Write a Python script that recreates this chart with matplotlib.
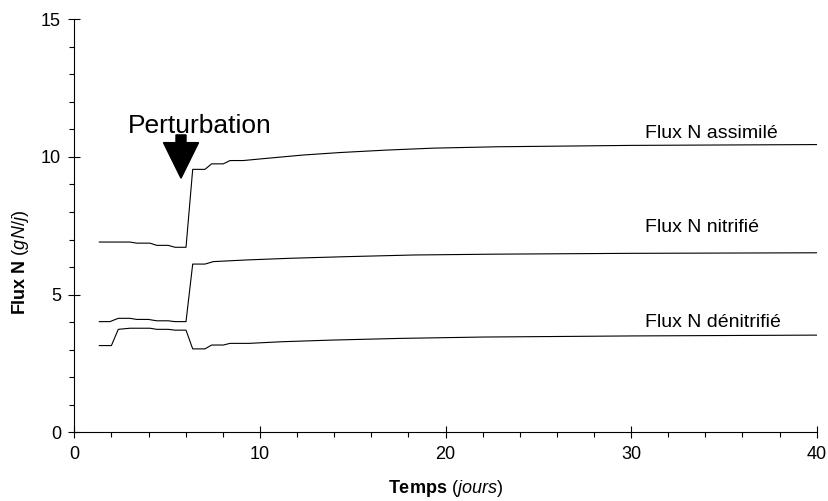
import matplotlib
matplotlib.use("Agg")
import matplotlib.pyplot as plt
from matplotlib.ticker import MultipleLocator

plt.rcParams["font.family"] = ["Liberation Sans", "DejaVu Sans"]
plt.rcParams["mathtext.fontset"] = "custom"
plt.rcParams["mathtext.rm"] = "Liberation Sans"
plt.rcParams["mathtext.bf"] = "Liberation Sans:bold"
plt.rcParams["mathtext.it"] = "Liberation Sans:italic"

# Flux N assimilé (gN/j)
t_assim = [1.35, 3.0, 3.36, 4.08, 4.44, 5.06, 5.43, 6.02, 6.38, 7.04, 7.40, 8.03,
           8.39, 9.10, 10.37, 12.32, 14.30, 16.83, 19.33, 22.76, 30.0, 40.0]
flux_assim = [6.91, 6.91, 6.87, 6.87, 6.79, 6.79, 6.72, 6.72, 9.55, 9.55, 9.75, 9.75,
              9.87, 9.87, 9.95, 10.07, 10.16, 10.25, 10.32, 10.37, 10.42, 10.45]

# Flux N nitrifié
t_nitri = [1.35, 1.92, 2.37, 3.0, 3.36, 3.99, 4.44, 5.06, 5.43, 6.02, 6.38, 7.04,
           7.50, 9.30, 11.6, 14.7, 18.3, 22.7, 30.0, 40.0]
flux_nitri = [4.02, 4.02, 4.14, 4.14, 4.10, 4.10, 4.05, 4.05, 4.02, 4.02, 6.11, 6.11,
              6.20, 6.26, 6.32, 6.38, 6.44, 6.47, 6.50, 6.52]

# Flux N dénitrifié
t_denit = [1.35, 2.0, 2.37, 3.0, 4.08, 4.44, 5.06, 5.43, 6.02, 6.38, 7.04, 7.40,
           8.03, 8.39, 9.40, 11.2, 13.9, 17.5, 22.0, 30.0, 40.0]
flux_denit = [3.15, 3.15, 3.74, 3.78, 3.78, 3.74, 3.74, 3.71, 3.71, 3.03, 3.03, 3.17,
              3.17, 3.23, 3.23, 3.29, 3.35, 3.41, 3.46, 3.50, 3.53]

fig = plt.figure(figsize=(8.29, 5.01), dpi=100)
ax = fig.add_axes([0.0896, 0.1371, 0.8956, 0.8244])

ax.plot(t_assim, flux_assim, color="black", lw=0.8)
ax.plot(t_nitri, flux_nitri, color="black", lw=0.8)
ax.plot(t_denit, flux_denit, color="black", lw=0.8)

# Noms des courbes
ax.text(30.75, 10.70, "Flux N assimilé", fontsize=14)
ax.text(30.75, 7.28, "Flux N nitrifié", fontsize=14)
ax.text(30.75, 3.82, "Flux N dénitrifié", fontsize=14)

# Perturbation
ax.text(6.77, 10.86, "Perturbation", fontsize=19, ha="center")
ax.arrow(5.75, 10.8, 0, -1.57, width=0.54, head_width=1.89, head_length=1.29,
         length_includes_head=True, color="black")

ax.set_xlim(0, 40)
ax.set_ylim(0, 15)
ax.xaxis.set_major_locator(MultipleLocator(10))
ax.xaxis.set_minor_locator(MultipleLocator(2))
ax.yaxis.set_major_locator(MultipleLocator(5))
ax.yaxis.set_minor_locator(MultipleLocator(1))

ax.tick_params(which="major", direction="inout", length=9, width=0.8,
               labelsize=13, pad=5)
ax.tick_params(which="minor", direction="out", length=3.5, width=0.8)

ax.spines["top"].set_visible(False)
ax.spines["right"].set_visible(False)
ax.spines["left"].set_linewidth(0.8)
ax.spines["bottom"].set_linewidth(0.8)

ax.set_xlabel(r"$\mathbf{Temps}$ $\mathit{(jours)}$", fontsize=13, labelpad=11)
ax.set_ylabel(r"$\mathbf{Flux\ N}$ $\mathit{(gN/j)}$", fontsize=13)
ax.yaxis.set_label_coords(-0.058, 0.412)

fig.savefig("out.png", dpi=100)
